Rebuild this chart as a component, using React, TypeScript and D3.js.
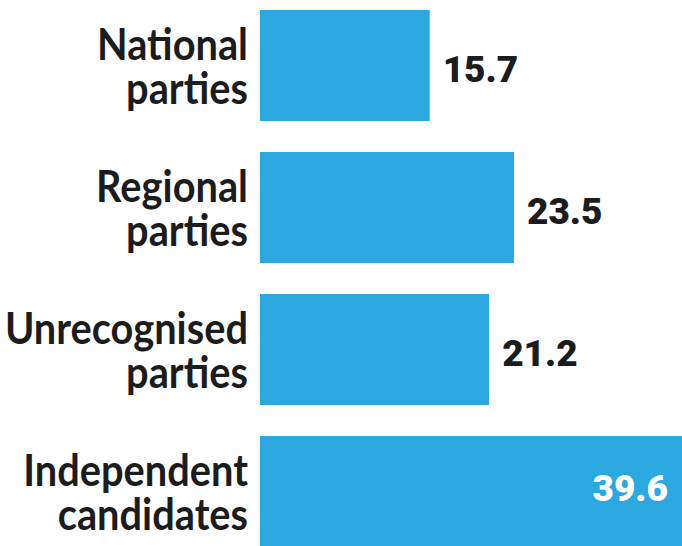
import React from "react";
import * as d3 from "d3";

const categories: string[][] = [
  ["National", "parties"],
  ["Regional", "parties"],
  ["Unrecognised", "parties"],
  ["Independent", "candidates"],
];
const values: number[] = [15.7, 23.5, 21.2, 39.6];
const valueLabels: string[] = ["15.7", "23.5", "21.2", "39.6"];

const W = 682;
const H = 546;
const BAR_COLOR = "#2ba8e0";
const TEXT = "#1c1c1c";

export default function App() {
  const x0 = 260;
  const x = d3.scaleLinear().domain([0, 39.6]).range([x0, x0 + 428]);
  const idx = d3.range(values.length).map(String);
  const y = d3
    .scaleBand<string>()
    .domain(idx)
    .range([-5.5, 562.5])
    .paddingInner(0.218)
    .paddingOuter(0.109);

  return (
    <svg
      width={W}
      height={H}
      style={{ position: "absolute", left: 0, top: 0, background: "#fff" }}
    >
      {values.map((v, i) => {
        const yy = y(String(i))!;
        const bw = y.bandwidth();
        const cy = yy + bw / 2;
        const inside = x(v) > W - 40;
        return (
          <g key={i}>
            <rect x={x0} y={yy} width={x(v) - x0} height={bw} fill={BAR_COLOR} />
            <g transform={`translate(248,${cy - 6}) scale(0.925,1)`}>
              <text
                x={0}
                y={0}
                textAnchor="end"
                fontFamily="Lato, sans-serif"
                fontWeight={700}
                fontSize={43}
                fill={TEXT}
              >
                {categories[i][0]}
              </text>
              <text
                x={0}
                y={45}
                textAnchor="end"
                fontFamily="Lato, sans-serif"
                fontWeight={700}
                fontSize={43}
                fill={TEXT}
              >
                {categories[i][1]}
              </text>
            </g>
            {inside ? (
              <text
                x={668}
                y={cy + 9}
                textAnchor="end"
                fontFamily="Roboto, sans-serif"
                fontWeight={900}
                fontSize={37}
                fill="#ffffff"
              >
                {valueLabels[i]}
              </text>
            ) : (
              <text
                x={x(v) + 13}
                y={cy + 16}
                fontFamily="Roboto, sans-serif"
                fontWeight={900}
                fontSize={37}
                fill={TEXT}
              >
                {valueLabels[i]}
              </text>
            )}
          </g>
        );
      })}
    </svg>
  );
}
